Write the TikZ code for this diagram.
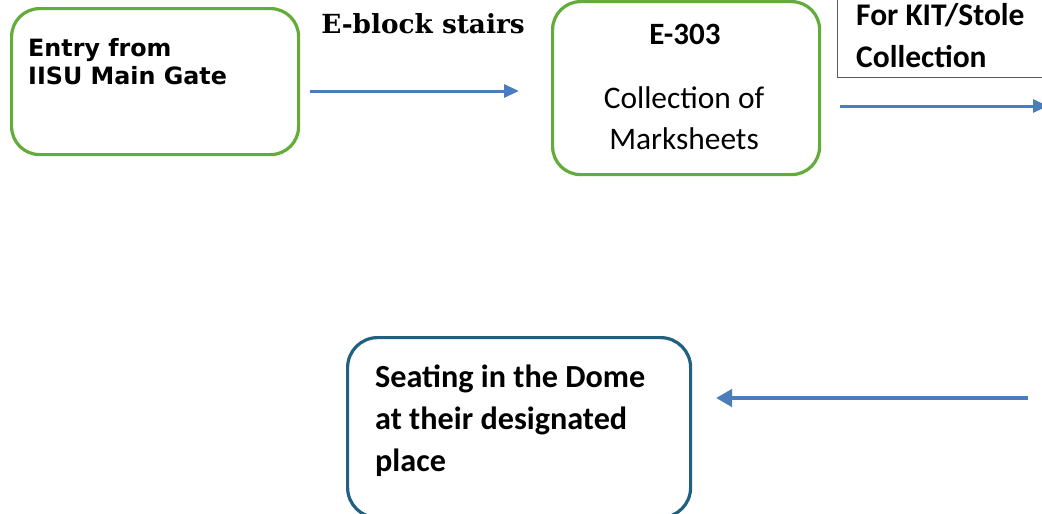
\documentclass[tikz,border=0pt]{standalone}
\usepackage{fontspec}
\setmainfont{Carlito}
\newfontfamily\verdanafont{DejaVu Sans}
\newfontfamily\serifbold{DejaVu Serif}
\usetikzlibrary{arrows.meta}
\definecolor{boxgreen}{RGB}{99,172,58}
\definecolor{boxteal}{RGB}{32,96,128}
\definecolor{arrblue}{RGB}{74,126,187}
\definecolor{boxgray}{RGB}{90,90,90}
\tikzset{
  greenbox/.style={draw=boxgreen,line width=3.2pt,rounded corners=28pt,rectangle,inner sep=0pt,anchor=north west,fill=white},
  tealbox/.style={draw=boxteal,line width=3.2pt,rounded corners=30pt,rectangle,inner sep=0pt,anchor=north west},
  graybox/.style={draw=boxgray,line width=1pt,rectangle,inner sep=0pt,anchor=north west},
  flow/.style={draw=arrblue,line width=3pt,-{Triangle[length=15pt,width=13pt]}},
  flowthick/.style={draw=arrblue,line width=4pt,-{Triangle[length=16pt,width=17pt]}},
  txt/.style={inner sep=0pt,anchor=base west,align=left},
}
\begin{document}
\begin{tikzpicture}[x=1pt,y=1pt]
\useasboundingbox (0,0) rectangle (1042,-514);
\clip (0,0) rectangle (1042,-514);
% boxes
\node[greenbox,minimum width=287pt,minimum height=146pt] (b1) at (10,-7) {};
\node[greenbox,minimum width=267pt,minimum height=173pt] (b2) at (551,0) {};
\node[graybox,minimum width=260pt,minimum height=107pt] (b3) at (837,30) {};
\node[tealbox,minimum width=343pt,minimum height=180pt] (b4) at (346,-336) {};
% texts (anchored at the baseline of the last line)
\node[txt,font=\verdanafont\bfseries\fontsize{23.8}{28}\selectfont] (t1) at (28,-84) {Entry from\\IISU Main Gate};
\node[inner sep=0pt,anchor=base,font=\serifbold\bfseries\fontsize{26.3}{30}\selectfont] (t2) at (423,-33) {E-block stairs};
\node[inner sep=0pt,anchor=base,font=\bfseries\fontsize{31}{36}\selectfont] (t3) at (685,-45) {E-303};
\node[inner sep=0pt,anchor=base,align=center,font=\fontsize{31.4}{41}\selectfont] (t4) at (684,-149) {Collection of\\Marksheets};
\node[txt,font=\bfseries\fontsize{31.5}{41.5}\selectfont] (t5) at (856,-67) {For KIT/Stole\\Collection};
\node[txt,font=\bfseries\fontsize{32.2}{42}\selectfont] (t6) at (375,-471) {Seating in the Dome\\at their designated\\place};
% connectors
\coordinate (a1s) at (310,-91);
\coordinate (a1e) at (519,-91);
\coordinate (a2s) at (840,-106);
\coordinate (a2e) at (1048,-106);
\coordinate (a3s) at (1028,-398);
\coordinate (a3e) at (716,-398);
\draw[flow] (a1s) -- (a1e);
\draw[flow] (a2s) -- (a2e);
\draw[flowthick] (a3s) -- (a3e);
\end{tikzpicture}
\end{document}
